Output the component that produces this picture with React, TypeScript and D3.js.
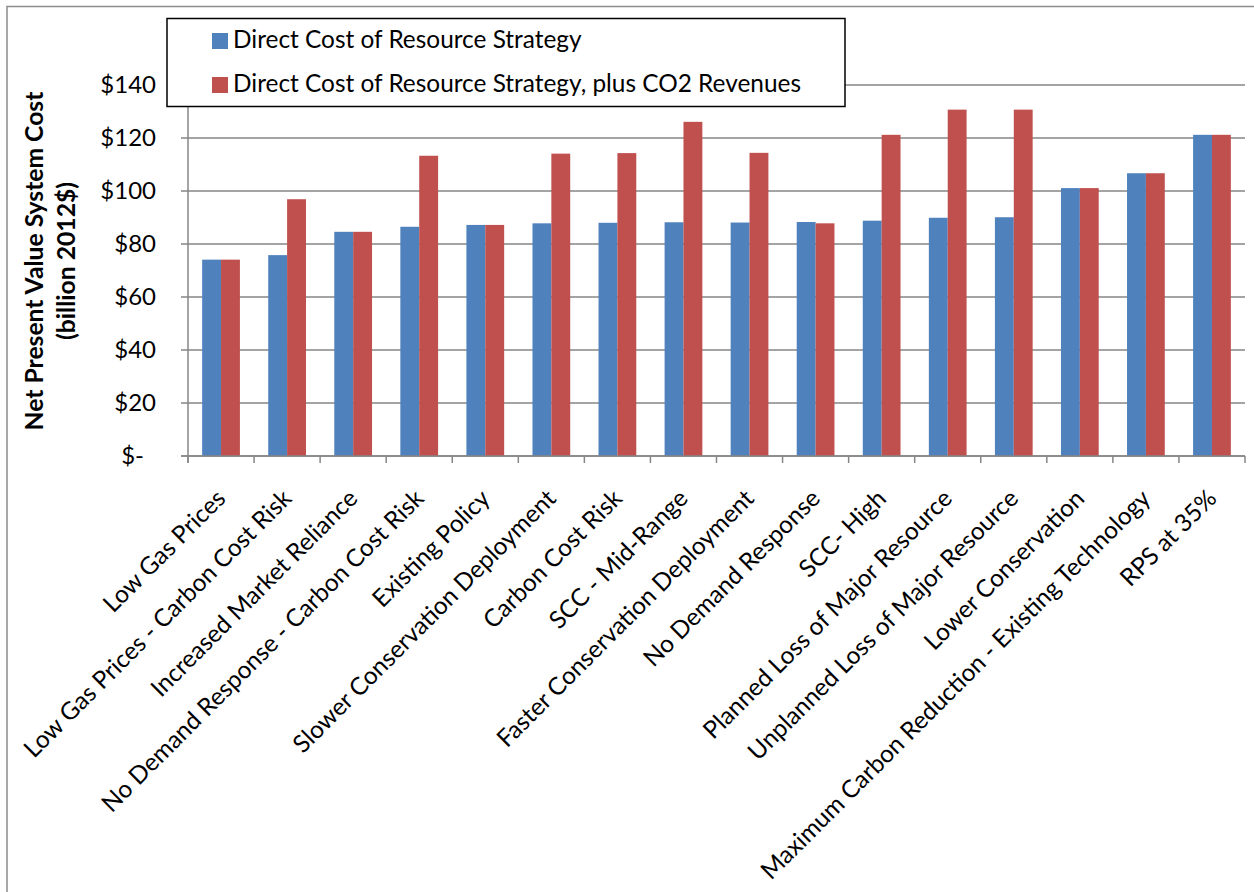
import React from "react";
import * as d3 from "d3";

const categories = [
  "Low Gas Prices",
  "Low Gas Prices - Carbon Cost Risk",
  "Increased Market Reliance",
  "No Demand Response - Carbon Cost Risk",
  "Existing Policy",
  "Slower Conservation Deployment",
  "Carbon Cost Risk",
  "SCC - Mid-Range",
  "Faster Conservation Deployment",
  "No Demand Response",
  "SCC- High",
  "Planned Loss of Major Resource",
  "Unplanned Loss of Major Resource",
  "Lower Conservation",
  "Maximum Carbon Reduction - Existing Technology",
  "RPS at 35%",
];

const directCost = [74.1, 75.8, 84.6, 86.5, 87.2, 87.8, 88.0, 88.2, 88.1, 88.3, 88.8, 89.9, 90.1, 101.1, 106.7, 121.2];
const directCostPlusCO2 = [74.1, 96.9, 84.6, 113.3, 87.2, 114.1, 114.3, 126.1, 114.4, 87.8, 121.2, 130.7, 130.7, 101.1, 106.7, 121.2];

const seriesNames = [
  "Direct Cost of Resource Strategy",
  "Direct Cost of Resource Strategy, plus CO2 Revenues",
];
const seriesColors = ["#4F81BD", "#C0504D"];
const yTicks = [0, 20, 40, 60, 80, 100, 120, 140];
const yTitle = ["Net Present Value System Cost", "(billion 2012$)"];

const FONT = "Lato, 'Open Sans', sans-serif";

export default function App() {
  const W = 1254;
  const H = 892;
  const left = 188;
  const right = 1245;
  const top = 85;
  const bottom = 456;

  const x = d3.scaleBand<string>().domain(categories).range([left, right]).paddingInner(0).paddingOuter(0);
  const xInner = d3.scaleBand<number>().domain([0, 1]).range([0, x.bandwidth()]).paddingInner(0).paddingOuter(0.75);
  const y = d3.scaleLinear().domain([0, 140]).range([bottom, top]);

  const series = [directCost, directCostPlusCO2];
  const gridColor = "#868686";
  const boundaries = d3.range(categories.length + 1).map((i) => left + i * x.step());

  return (
    <svg width={W} height={H} style={{ position: "absolute", left: 0, top: 0, background: "#fff" }} fontFamily={FONT}>
      <rect x={0} y={0} width={W} height={H} fill="#fff" />
      {/* outer frame */}
      <path d={`M7,${H} L7,6.5 L${W},6.5`} fill="none" stroke="#8c8c8c" strokeWidth={1.5} />

      {/* gridlines */}
      {yTicks.map((t) => (
        <line key={"g" + t} x1={left - 7} x2={right} y1={y(t)} y2={y(t)} stroke={gridColor} strokeWidth={1.3} />
      ))}
      {/* y axis */}
      <line x1={left} x2={left} y1={top} y2={bottom + 7} stroke={gridColor} strokeWidth={1.5} />
      {/* x ticks */}
      {boundaries.map((bx, i) => (
        <line key={"xt" + i} x1={bx} x2={bx} y1={bottom} y2={bottom + 7} stroke={gridColor} strokeWidth={1.5} />
      ))}

      {/* bars */}
      {series.map((vals, si) =>
        vals.map((v, ci) => (
          <rect
            key={`b${si}-${ci}`}
            x={(x(categories[ci]) as number) + (xInner(si) as number)}
            y={y(v)}
            width={xInner.bandwidth()}
            height={y(0) - y(v)}
            fill={seriesColors[si]}
          />
        ))
      )}

      {/* x axis line */}
      <line x1={left - 7} x2={right} y1={bottom} y2={bottom} stroke={gridColor} strokeWidth={1.5} />

      {/* y tick labels */}
      {yTicks.map((t) => (
        <text
          key={"yl" + t}
          x={t === 0 ? 144 : 156}
          y={y(t)}
          dy="0.35em"
          textAnchor="end"
          fontSize={24}
          fill="#000"
        >
          {t === 0 ? "$-" : `$${t}`}
        </text>
      ))}

      {/* x labels */}
      {categories.map((c) => {
        const cx = (x(c) as number) + x.bandwidth() / 2;
        return (
          <text
            key={"xl" + c}
            transform={`translate(${cx + 6},${500}) rotate(-45)`}
            textAnchor="end"
            fontSize={24.4}
            fill="#000"
          >
            {c}
          </text>
        );
      })}

      {/* y title */}
      <text transform={`translate(43,261) rotate(-90)`} textAnchor="middle" fontSize={24.7} fontWeight="bold" fill="#000">
        {yTitle[0]}
      </text>
      <text transform={`translate(75,261) rotate(-90)`} textAnchor="middle" fontSize={24.7} fontWeight="bold" fill="#000">
        {yTitle[1]}
      </text>

      {/* legend */}
      <rect x={167} y={18.5} width={678} height={88} fill="#fff" stroke="#000" strokeWidth={1.5} />
      {seriesNames.map((n, i) => (
        <g key={"lg" + i}>
          <rect x={212} y={33 + i * 44} width={16} height={16} fill={seriesColors[i]} />
          <text x={233} y={47.5 + i * 44} fontSize={24.4} fill="#000">
            {n}
          </text>
        </g>
      ))}
    </svg>
  );
}
